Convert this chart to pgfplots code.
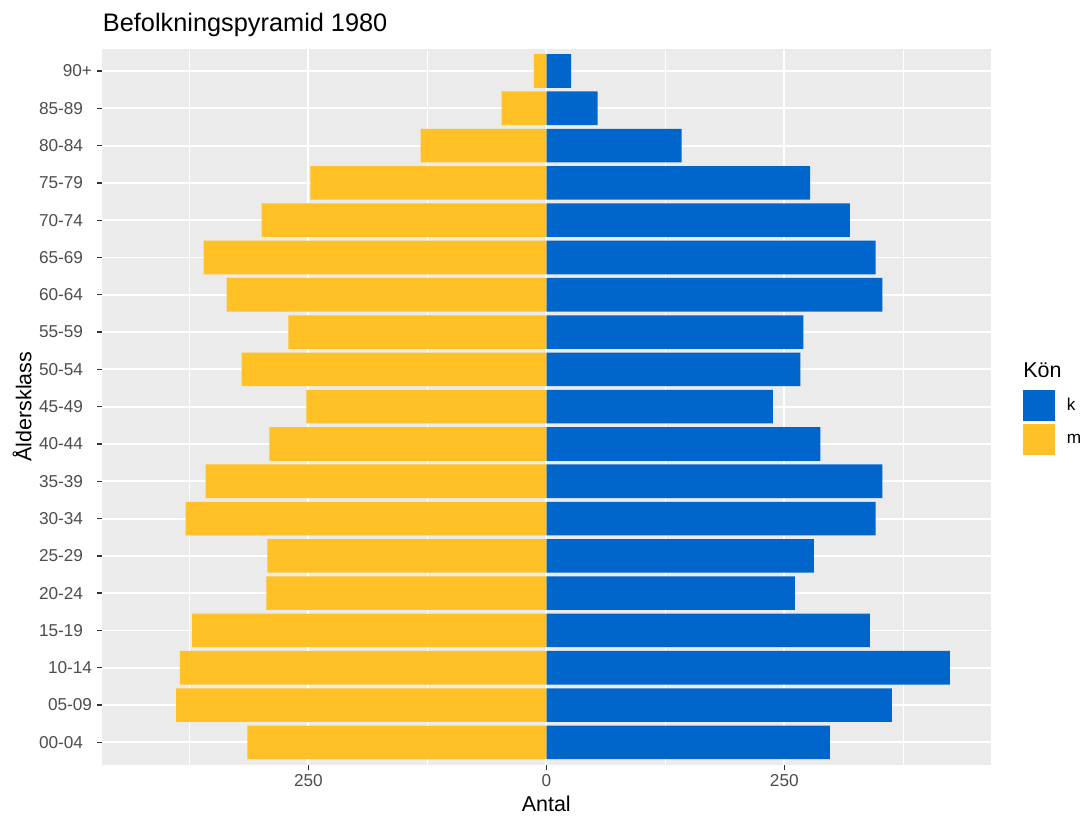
\documentclass[border=0pt]{standalone}
\usepackage{fontspec}
\setmainfont{Liberation Sans}
\usepackage{pgfplots}
\pgfplotsset{compat=1.18}
\usepackage{pgfplotstable}
\definecolor{kblue}{HTML}{0066CC}
\definecolor{myellow}{HTML}{FFC125}
\definecolor{panelbg}{HTML}{EBEBEB}
\definecolor{gray30}{HTML}{4D4D4D}
\definecolor{gray20}{HTML}{333333}
\newcommand{\g}{\rule{6.75pt}{0pt}}

\pgfplotstableread{
idx val
0 298
1 363
2 424
3 340
4 261
5 281
6 346
7 353
8 288
9 238
10 267
11 270
12 353
13 346
14 319
15 277
16 142
17 54
18 26
}\kdata

\pgfplotstableread{
idx val
0 -314
1 -389
2 -385
3 -372
4 -294
5 -293
6 -379
7 -358
8 -291
9 -252
10 -320
11 -271
12 -336
13 -360
14 -299
15 -248
16 -132
17 -47
18 -13
}\mdata

\begin{document}
\begin{tikzpicture}
\useasboundingbox (0,0) rectangle (813pt,611.25pt);
\begin{axis}[
  at={(76.5pt,37.7pt)}, anchor=south west,
  scale only axis, width=666.5pt, height=537.1pt,
  xmin=-466.8, xmax=466.8, ymin=-0.6, ymax=18.6,
  xbar, bar shift=0pt, bar width=0.9,
  axis background/.style={fill=panelbg},
  axis line style={draw=none},
  xtick={-250,0,250}, xticklabels={250,0,250},
  minor xtick={-375,-125,125,375},
  ytick={0,...,18},
  yticklabels={00-04\g,05-09,10-14,15-19\g,20-24\g,25-29\g,30-34\g,35-39\g,40-44\g,45-49\g,50-54\g,55-59\g,60-64\g,65-69\g,70-74\g,75-79\g,80-84\g,85-89\g,90+},
  xmajorgrids, ymajorgrids, xminorgrids,
  major grid style={white, line width=1.43pt},
  minor grid style={white, line width=0.72pt},
  tick align=outside, major tick length=3.7pt, minor tick length=0pt,
  tick style={gray20, line width=1pt},
  tick pos=left,
  ticklabel style={font=\fontsize{12.9}{15}\selectfont, text=gray30},
  yticklabel style={inner xsep=3.6pt},
  /pgf/number format/assume math mode=true,
  legend style={at={(axis description cs:1.0363,0.5233)}, anchor=north west,
    draw=none, fill=none, inner sep=0pt, outer sep=0pt, row sep=2.25pt,
    font=\fontsize{12.9}{15}\selectfont,
    nodes={inner sep=0pt, anchor=west},
    /tikz/every odd column/.append style={column sep=9pt}},
  legend cell align=left,
  legend image code/.code={\fill[#1] (0pt,-11.6pt) rectangle (24pt,11.6pt);},
]
\addplot[fill=kblue, draw=none] table[x=val,y=idx]{\kdata};
\addplot[fill=myellow, draw=none] table[x=val,y=idx]{\mdata};
\legend{k,m}
\end{axis}
\node[anchor=base west, inner sep=0pt, font=\fontsize{19}{22}\selectfont] at (77pt,587.25pt) {Befolkningspyramid 1980};
\node[anchor=base, inner sep=0pt, font=\fontsize{16.1}{19}\selectfont] at (409.7pt,2.6pt) {Antal};
\node[anchor=base, rotate=90, inner sep=0pt, font=\fontsize{16.1}{19}\selectfont] at (23.6pt,306.3pt) {Åldersklass};
\node[anchor=base west, inner sep=0pt, font=\fontsize{16.1}{19}\selectfont] at (767.25pt,328.5pt) {Kön};
\end{tikzpicture}
\end{document}
